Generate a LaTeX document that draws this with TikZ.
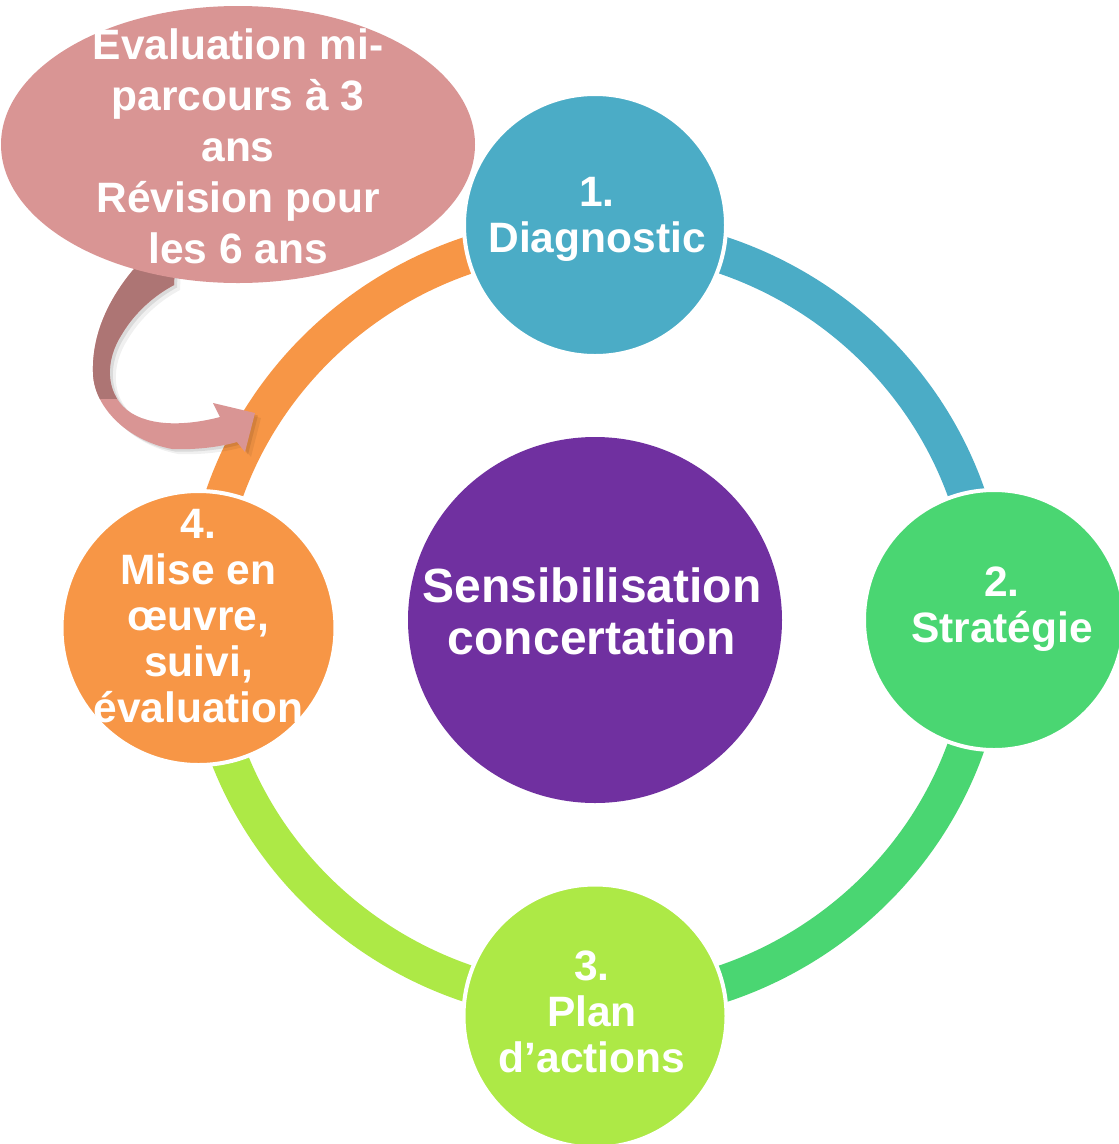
\documentclass[tikz,border=0pt]{standalone}
\usepackage{fontspec}
\setmainfont{Liberation Sans}
\usetikzlibrary{shapes.geometric}
\definecolor{cBlue}{HTML}{4BACC6}
\definecolor{cGreen}{HTML}{4AD672}
\definecolor{cLime}{HTML}{ADE946}
\definecolor{cOrange}{HTML}{F79646}
\definecolor{cPurple}{HTML}{7030A0}
\definecolor{cPink}{HTML}{D99594}
\definecolor{cPinkDark}{HTML}{AD7574}
\newcommand{\calloutArrowPath}{(150,258) -- (133,270) .. controls (108,300) and (92,335) .. (93,372) .. controls (93,405) and (125,440) .. (172,449) .. controls (195,450) and (220,447) .. (237,442) -- (245,452) -- (255,413) -- (213,403) -- (220,417) .. controls (190,425) and (150,428) .. (127,410) .. controls (105,392) and (105,360) .. (122,334) .. controls (135,312) and (155,295) .. (174,285) -- (175,262) -- cycle}
\begin{document}
\setlength{\lineskiplimit}{-200pt}
\begin{tikzpicture}[x=1pt, y=-1pt,
  ring/.style={line width=37pt, line cap=butt},
  stage/.style={circle, draw=white, line width=4pt, inner sep=0pt},
  lbl/.style={text=white, align=center, inner sep=0pt, anchor=base,
    font=\bfseries\fontsize{42.5}{46}\selectfont}
]
\useasboundingbox (0,0) rectangle (1119,1144);
\clip (0,0) rectangle (1119,1144);
\fill[white] (0,0) rectangle (1119,1144);

% ring
\coordinate (O) at (595.5,619.5);
\coordinate (rT) at (595.5,234.5);
\coordinate (rR) at (988,619.5);
\coordinate (rB) at (595.5,1004.5);
\coordinate (rL) at (203,619.5);
\draw[ring, cBlue]   (rT) arc[start angle=90,  end angle=0,   x radius=392.5pt, y radius=385pt];
\draw[ring, cGreen]  (rR) arc[start angle=0,   end angle=-90, x radius=392.5pt, y radius=385pt];
\draw[ring, cLime]   (rB) arc[start angle=-90, end angle=-180,x radius=392.5pt, y radius=385pt];
\draw[ring, cOrange] (rL) arc[start angle=180, end angle=90,  x radius=392.5pt, y radius=385pt];

% stages
\node[stage, fill=cBlue,   minimum size=262pt] (c1) at (595,225) {};
\node[stage, fill=cGreen,  minimum size=260pt] (c2) at (994,620) {};
\node[stage, fill=cLime,   minimum size=263pt] (c3) at (595,1016) {};
\node[stage, fill=cOrange, minimum size=274pt] (c4) at (198.5,628) {};
\node[ellipse, fill=cPurple, inner sep=0pt, minimum width=374pt, minimum height=366pt] (cc) at (595,620) {};

% curved arrow of the callout
\fill[black, opacity=0.06, xshift=6pt, yshift=-5pt] \calloutArrowPath;
\fill[black, opacity=0.09, xshift=3pt, yshift=-2.5pt] \calloutArrowPath;
\fill[cPink] \calloutArrowPath;
\begin{scope}
  \clip (0,0) rectangle (300,398);
  \fill[cPinkDark] \calloutArrowPath;
\end{scope}

% callout
\node[ellipse, fill=cPink, inner sep=0pt, minimum width=474pt, minimum height=277pt] (call) at (238,144.5) {};

% texts (base = baseline of the last line)
\node[lbl] (t1) at (597,252) {1.\\Diagnostic};
\node[lbl] (t2) at (1002,642) {2.\\Stratégie};
\node[lbl] (t3) at (592,1072) {3.\\Plan\\d’actions};
\node[lbl] (t4) at (198.5,722) {4.\\Mise en\\œuvre,\\suivi,\\évaluation};
\node[lbl, font=\bfseries\fontsize{48}{52}\selectfont] (tc) at (592,654) {Sensibilisation\\concertation};
\begin{scope}
  \clip (0,28.5) rectangle (480,300);
  \node[lbl, font=\bfseries\fontsize{42.5}{51}\selectfont] (tcall) at (238,263) {Évaluation mi-\\parcours à 3\\ans\\Révision pour\\les 6 ans};
\end{scope}
\end{tikzpicture}
\end{document}
